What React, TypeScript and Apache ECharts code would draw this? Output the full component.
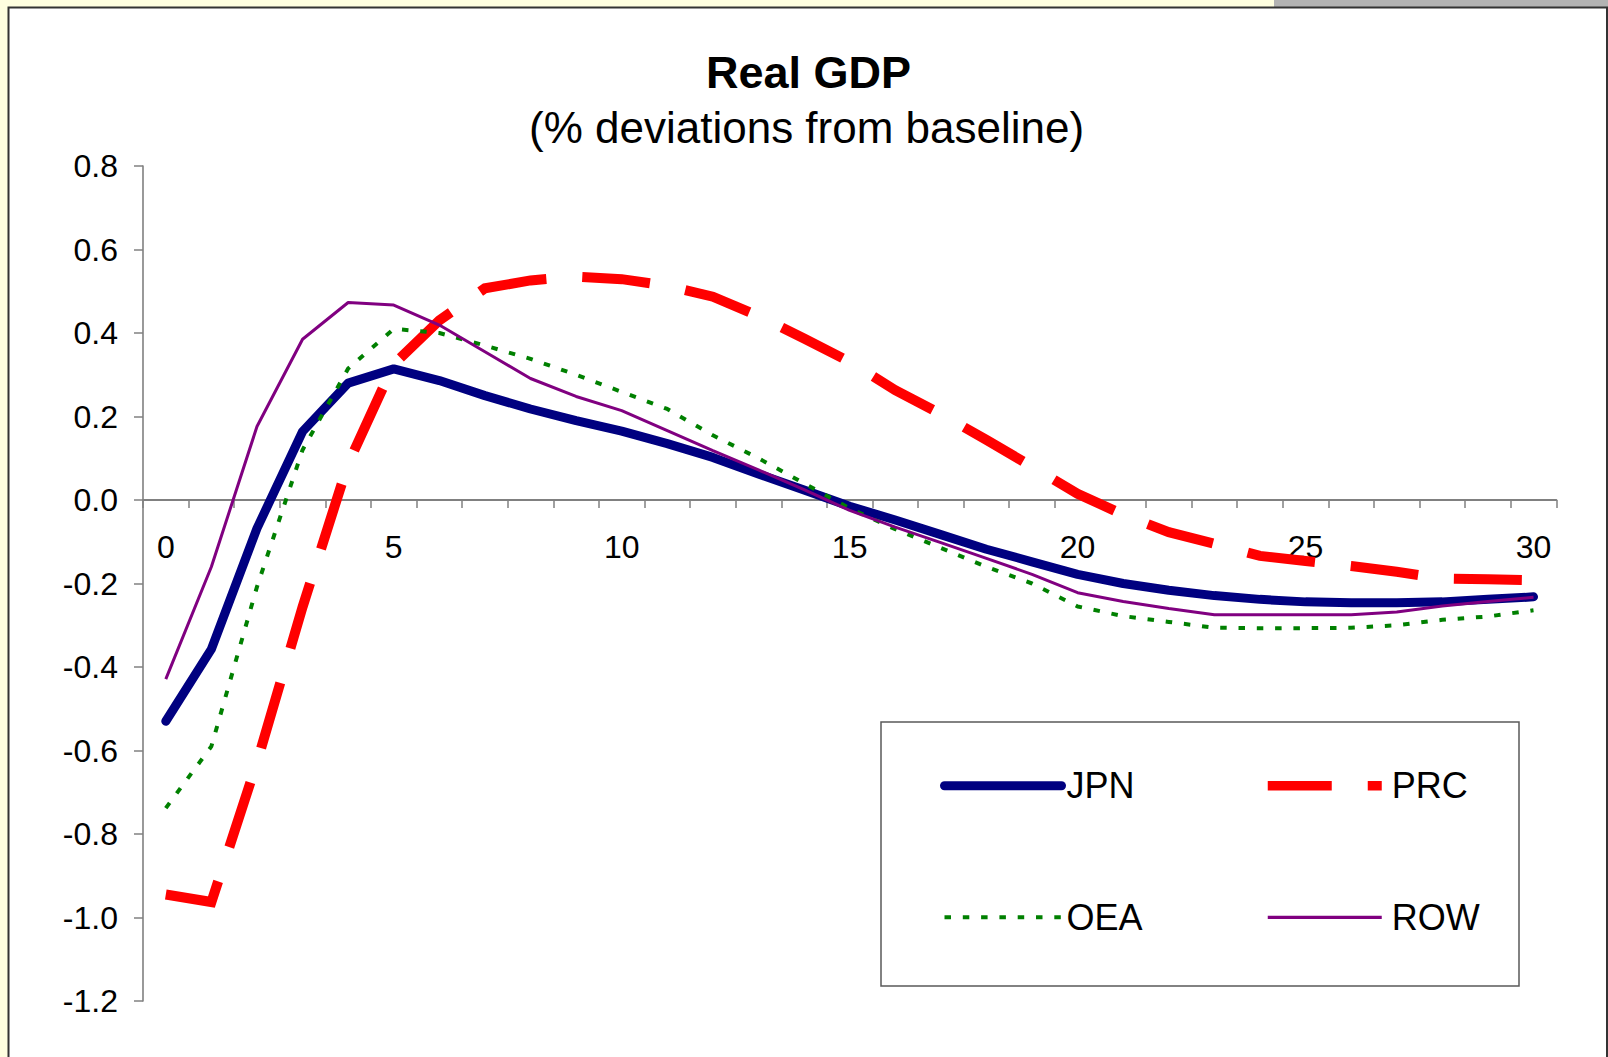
import React, { useEffect, useRef } from "react";
import * as echarts from "echarts";

const periods = ["0","1","2","3","4","5","6","7","8","9","10","11","12","13","14","15","16","17","18","19","20","21","22","23","24","25","26","27","28","29","30"];

const jpn = [-0.53, -0.357, -0.068, 0.164, 0.28, 0.314, 0.286, 0.25, 0.218, 0.19, 0.165, 0.135, 0.102, 0.062, 0.024, -0.015, -0.048, -0.083, -0.118, -0.148, -0.178, -0.2, -0.216, -0.229, -0.238, -0.244, -0.246, -0.246, -0.244, -0.238, -0.232];
const prc = [-0.945, -0.963, -0.628, -0.256, 0.087, 0.325, 0.43, 0.507, 0.526, 0.535, 0.529, 0.513, 0.487, 0.441, 0.387, 0.331, 0.263, 0.206, 0.144, 0.08, 0.015, -0.035, -0.077, -0.105, -0.134, -0.146, -0.158, -0.172, -0.188, -0.19, -0.192];
const oea = [-0.738, -0.59, -0.208, 0.12, 0.315, 0.41, 0.4, 0.37, 0.338, 0.3, 0.259, 0.218, 0.155, 0.1, 0.04, -0.02, -0.07, -0.115, -0.16, -0.2, -0.255, -0.278, -0.292, -0.306, -0.307, -0.307, -0.306, -0.3, -0.287, -0.279, -0.264];
const row = [-0.429, -0.16, 0.176, 0.385, 0.473, 0.467, 0.419, 0.355, 0.291, 0.248, 0.214, 0.166, 0.118, 0.072, 0.025, -0.025, -0.065, -0.102, -0.14, -0.178, -0.222, -0.243, -0.26, -0.275, -0.275, -0.275, -0.275, -0.268, -0.254, -0.243, -0.233];

const yMin = -1.2;
const yMax = 0.8;
const yStep = 0.2;

const titleText = "Real GDP";
const subtitleText = "(% deviations from baseline)";

const FONT = "'Liberation Sans', Arial, sans-serif";

export default function App() {
  const ref = useRef<HTMLDivElement>(null);

  useEffect(() => {
    if (!ref.current) return;
    const chart = echarts.init(ref.current, null, { renderer: "svg" });
    const axisColor = "#808080";
    const gridTop = 166;
    const gridBottom = 56;
    const plotH = 1057 - gridTop - gridBottom;
    // distance from bottom of plot to the zero line, used to lift the category axis onto y = 0
    const zeroLift = plotH * (0 - yMin) / (yMax - yMin);
    chart.setOption({
      animation: false,
      backgroundColor: "#FFFFE0",
      textStyle: { fontFamily: FONT },
      title: [
        {
          text: titleText,
          left: 706,
          top: 49.5,
          padding: 0,
          textStyle: { fontSize: 45, fontWeight: "bold", color: "#000", fontFamily: FONT, lineHeight: 45 },
        },
        {
          text: subtitleText,
          left: 529,
          top: 105.5,
          padding: 0,
          textStyle: { fontSize: 44, fontWeight: "normal", color: "#000", fontFamily: FONT, lineHeight: 44 },
        },
      ],
      graphic: [
        { type: "rect", z: -10, silent: true, shape: { x: 1274, y: 0, width: 334, height: 8 }, style: { fill: "#B3B3B3" } },
        { type: "rect", z: -9, silent: true, shape: { x: 8.5, y: 7.5, width: 1598.5, height: 1062 }, style: { fill: "#FFFFFF", stroke: "#333333", lineWidth: 2 } },
        { type: "rect", z: 3, silent: true, shape: { x: 881, y: 722, width: 638, height: 264 }, style: { fill: "#FFFFFF", stroke: "#5a5a5a", lineWidth: 1.5 } },
      ],
      grid: { left: 143, right: 51.7, top: gridTop, bottom: gridBottom, containLabel: false },
      legend: [
        {
          orient: "vertical",
          left: 940,
          top: 767.7,
          padding: 0,
          itemWidth: 117,
          itemHeight: 36,
          itemGap: 95.6,
          selectedMode: false,
          itemStyle: { opacity: 0 },
          textStyle: { fontSize: 36, color: "#000", fontFamily: FONT },
          data: [
            { name: "JPN", lineStyle: { width: 9, cap: "round" } },
            { name: "OEA", lineStyle: { width: 4, type: [6.5, 11.8] } },
          ],
        },
        {
          orient: "vertical",
          left: 1263,
          top: 767.7,
          padding: 0,
          itemWidth: 114,
          itemHeight: 36,
          itemGap: 95.6,
          selectedMode: false,
          itemStyle: { opacity: 0 },
          textStyle: { fontSize: 36, color: "#000", fontFamily: FONT, padding: [0, 0, 0, 5] },
          data: [
            { name: "PRC", lineStyle: { width: 9.5, type: [64, 36] } },
            { name: "ROW", lineStyle: { width: 3.3 } },
          ],
        },
      ],
      xAxis: {
        type: "category",
        data: periods,
        boundaryGap: true,
        position: "bottom",
        offset: -zeroLift,
        axisLine: { show: true, onZero: false, lineStyle: { color: axisColor, width: 2 } },
        axisTick: { show: true, interval: 0, length: 8, lineStyle: { color: axisColor, width: 1.5 } },
        axisLabel: { interval: 4, fontSize: 32, color: "#000", margin: 31, fontFamily: FONT },
        splitLine: { show: false },
      },
      yAxis: {
        type: "value",
        min: yMin,
        max: yMax,
        interval: yStep,
        axisLine: { show: true, lineStyle: { color: axisColor, width: 1.6 } },
        axisTick: { show: true, length: 9, lineStyle: { color: axisColor, width: 1.5 } },
        axisLabel: {
          fontSize: 32,
          color: "#000",
          margin: 25,
          fontFamily: FONT,
          formatter: (v: number) => v.toFixed(1),
        },
        splitLine: { show: false },
      },
      series: [
        {
          name: "JPN",
          type: "line",
          data: jpn,
          symbol: "none",
          color: "#000080",
          lineStyle: { color: "#000080", width: 9, cap: "round", join: "round" },
        },
        {
          name: "PRC",
          type: "line",
          data: prc,
          symbol: "none",
          color: "#FF0000",
          lineStyle: { color: "#FF0000", width: 10, type: [68, 36], cap: "butt", join: "miter" },
        },
        {
          name: "OEA",
          type: "line",
          data: oea,
          symbol: "none",
          color: "#008000",
          lineStyle: { color: "#008000", width: 4, type: [6.5, 11.8] },
        },
        {
          name: "ROW",
          type: "line",
          data: row,
          symbol: "none",
          color: "#800080",
          lineStyle: { color: "#800080", width: 3 },
        },
      ],
    });
    return () => chart.dispose();
  }, []);

  return <div ref={ref} style={{ position: "absolute", left: 0, top: 0, width: 1608, height: 1057 }} />;
}
